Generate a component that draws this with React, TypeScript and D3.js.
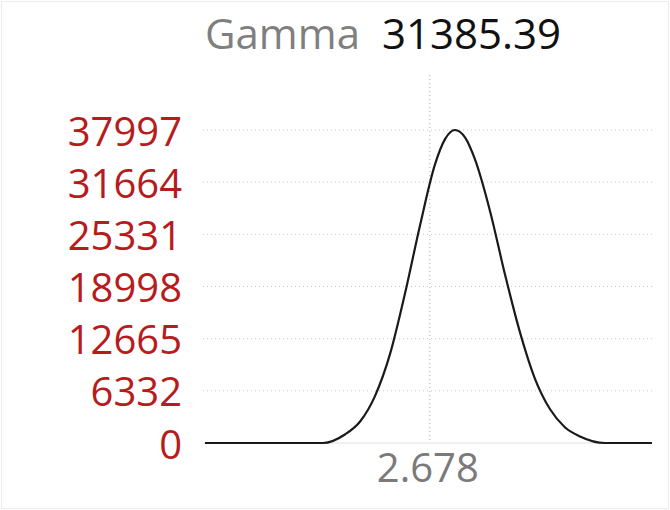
import * as d3 from "d3";
import React from "react";

// distribution curve
const xValues = [2.175, 2.439, 2.488, 2.522, 2.555, 2.589, 2.622, 2.656, 2.689, 2.712, 2.734, 2.757, 2.779, 2.813, 2.846, 2.88, 2.913, 2.947, 2.98, 3.014, 3.07, 3.175];
const yValues = [0, 0, 1037, 2607, 5662, 10814, 18049, 26408, 33741, 36895, 37997, 37070, 34425, 28080, 20480, 13375, 7827, 4092, 1915, 802, 0, 0];
const yTicks = [0, 6332, 12665, 18998, 25331, 31664, 37997];
const xTicks = [2.678];
const xDomain = [2.175, 3.175];
const titleLabel = "Gamma";
const titleValue = "31385.39";

const W = 670;
const H = 510;
const m = { top: 75, right: 18, bottom: 67, left: 205 };
const FONT = "'Segoe UI', 'Open Sans', 'Noto Sans', sans-serif";

export default function App() {
    const x = d3.scaleLinear().domain(xDomain).range([m.left, W - m.right]);
    const y = d3.scaleLinear().domain([0, 37997]).range([H - m.bottom, 130]);
    const data = xValues.map((v, i) => ({ x: v, y: yValues[i] }));
    const line = d3.line<{ x: number; y: number }>().x(d => x(d.x)).y(d => y(d.y)).curve(d3.curveMonotoneX);

    return (
        <div style={{ position: "fixed", left: 0, top: 0 }}>
            <svg width={W} height={H} style={{ display: "block", background: "#fff" }} fontFamily={FONT}>
                <rect x={1.5} y={1.5} width={W - 3} height={H - 3} fill="none" stroke="#ececec" />
                <text x={205} y={49} fontSize={42} fill="#7f7f7f">
                    {titleLabel}
                    <tspan dx={22} fill="#111">{titleValue}</tspan>
                </text>

                {yTicks.map(t => (
                    <g key={t}>
                        {t > 0 && (
                            <line x1={m.left - 2} x2={W - m.right} y1={y(t)} y2={y(t)} stroke="#c8c8c8" strokeWidth={1} strokeDasharray="1 3" />
                        )}
                        <text x={182} y={y(t)} textAnchor="end" dominantBaseline="central" fontSize={40} fill="#b71c1c">{t}</text>
                    </g>
                ))}
                <line x1={m.left - 2} x2={W - m.right} y1={y(0)} y2={y(0)} stroke="#e0e0e0" strokeWidth={1} />

                {xTicks.map(t => (
                    <g key={t}>
                        <line x1={x(t)} x2={x(t)} y1={m.top} y2={y(0)} stroke="#b0b0b0" strokeWidth={1} strokeDasharray="1 3" />
                        <text x={x(t) - 2} y={y(0) + 23} textAnchor="middle" dominantBaseline="central" fontSize={40} fill="#7a7a7a">{t}</text>
                    </g>
                ))}

                <path d={line(data) ?? undefined} fill="none" stroke="#1a1a1a" strokeWidth={2.2} strokeLinejoin="round" />
            </svg>
        </div>
    );
}
